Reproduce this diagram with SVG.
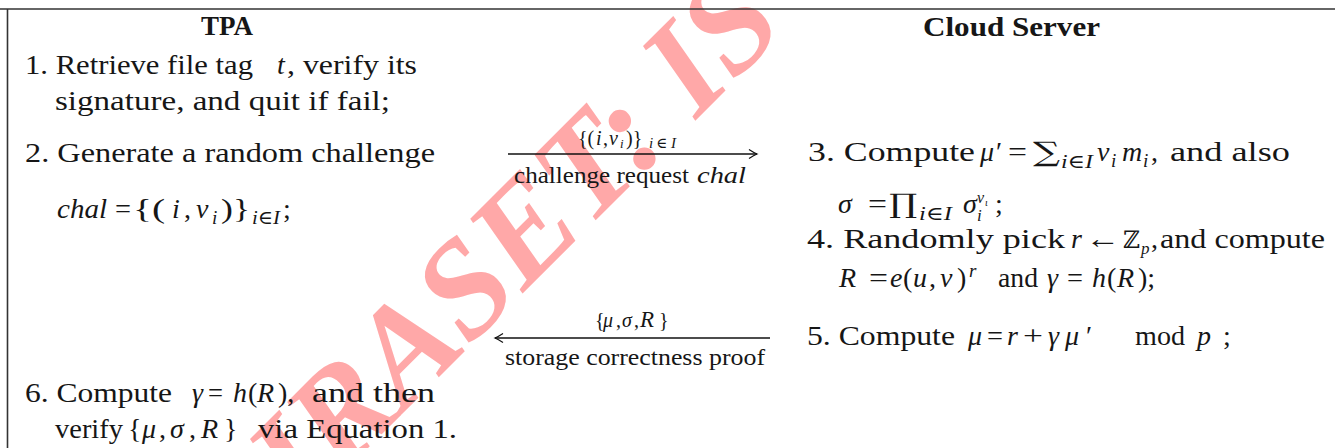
<svg xmlns="http://www.w3.org/2000/svg" width="1335" height="448" viewBox="0 0 1335 448">
<style>
text{font-family:"Liberation Serif","DejaVu Serif",serif;font-size:28px;fill:#161616}
.mi{font-style:italic}
.b{font-weight:bold;font-size:27px}
.s{font-size:19px}
.lab{font-size:23px}
.ml{font-size:20px}
.ms{font-size:15px;font-style:italic}
.big{font-family:"DejaVu Serif","Liberation Serif",serif;font-size:27px}
.wm{font-family:"Liberation Serif","DejaVu Serif",serif;font-size:137px;font-weight:bold;font-style:italic;fill:#ffa8a8}
.frame{stroke:#333;stroke-width:1.6;fill:none}
.conn{stroke:#111;stroke-width:1.3;fill:none}
</style>
<defs>
<marker id="ah" viewBox="-10 -6 12 12" markerWidth="12" markerHeight="12" refX="0" refY="0" orient="auto" markerUnits="userSpaceOnUse">
<path d="M-8,-4.5 Q-3,-1.2 0,0 Q-3,1.2 -8,4.5" stroke="#111" stroke-width="1.2" fill="none"/>
</marker>
</defs>
<rect width="1335" height="448" fill="#fff"/>
<g id="watermark">
<text class="wm" transform="translate(254,562) rotate(-45)">IJRASET: IS</text>
</g>
<g id="frame">
<line class="frame" x1="0" y1="9" x2="1335" y2="9"/>
<line class="frame" x1="7.5" y1="9" x2="7.5" y2="448"/>
</g>
<g id="tpa">
<text class="b" x="227" y="35" text-anchor="middle">TPA</text>
<text x="25" y="74" textLength="228" lengthAdjust="spacingAndGlyphs">1. Retrieve file tag</text>
<text class="mi" x="277" y="74">t</text>
<text x="287" y="74" textLength="130" lengthAdjust="spacingAndGlyphs">, verify its</text>
<text x="55" y="110" textLength="335" lengthAdjust="spacingAndGlyphs">signature, and quit if fail;</text>
<text x="25" y="162" textLength="410" lengthAdjust="spacingAndGlyphs">2. Generate a random challenge</text>
<text class="mi" x="57" y="218" textLength="50" lengthAdjust="spacingAndGlyphs">chal</text>
<text x="115" y="218" textLength="16" lengthAdjust="spacingAndGlyphs">=</text>
<text x="133" y="218" textLength="32" lengthAdjust="spacingAndGlyphs">{(</text>
<text class="mi" x="172" y="218">i</text>
<text x="184" y="218">,</text>
<text class="mi" x="196" y="218">ν</text>
<text class="s mi" x="212" y="224">i</text>
<text x="221" y="218" textLength="29" lengthAdjust="spacingAndGlyphs">)}</text>
<text class="s mi" x="252" y="224" textLength="28" lengthAdjust="spacingAndGlyphs">i∈I</text>
<text x="283" y="218">;</text>
<text x="25" y="402" textLength="147" lengthAdjust="spacingAndGlyphs">6. Compute</text>
<text class="mi" x="192" y="402">γ</text>
<text x="208" y="402" textLength="15" lengthAdjust="spacingAndGlyphs">=</text>
<text class="mi" x="233" y="402">h</text>
<text x="248" y="402">(</text>
<text class="mi" x="257" y="402">R</text>
<text x="278" y="402">),</text>
<text x="312" y="402" textLength="123" lengthAdjust="spacingAndGlyphs">and then</text>
<text x="55" y="438" textLength="68" lengthAdjust="spacingAndGlyphs">verify</text>
<text x="128" y="438">{</text>
<text class="mi" x="142" y="438">μ</text>
<text x="159" y="438">,</text>
<text class="mi" x="170" y="438">σ</text>
<text x="189" y="438">,</text>
<text class="mi" x="201" y="438">R</text>
<text x="224" y="438">}</text>
<text x="258" y="438" textLength="199" lengthAdjust="spacingAndGlyphs">via Equation 1.</text>
</g>
<g id="server">
<text class="b" x="923" y="36" textLength="177" lengthAdjust="spacingAndGlyphs">Cloud Server</text>
<text x="808" y="161" textLength="167" lengthAdjust="spacingAndGlyphs">3. Compute</text>
<text class="mi" x="980" y="161">μ</text>
<text x="996" y="161">′</text>
<text x="1008" y="161" textLength="19" lengthAdjust="spacingAndGlyphs">=</text>
<text class="big" x="1033" y="161" textLength="27" lengthAdjust="spacingAndGlyphs">∑</text>
<text class="s mi" x="1061" y="168" textLength="32" lengthAdjust="spacingAndGlyphs">i∈I</text>
<text class="mi" x="1097" y="161">ν</text>
<text class="s mi" x="1111" y="167">i</text>
<text class="mi" x="1122" y="161">m</text>
<text class="s mi" x="1143" y="167">i</text>
<text x="1151" y="161">,</text>
<text x="1170" y="161" textLength="120" lengthAdjust="spacingAndGlyphs">and also</text>
<text class="mi" x="838" y="213">σ</text>
<text x="868" y="213" textLength="19" lengthAdjust="spacingAndGlyphs">=</text>
<text class="big" x="889" y="213" textLength="28" lengthAdjust="spacingAndGlyphs">∏</text>
<text class="s mi" x="919" y="220" textLength="33" lengthAdjust="spacingAndGlyphs">i∈I</text>
<text class="mi" x="963" y="213">σ</text>
<text class="mi" x="977" y="203" style="font-size:16px">ν</text>
<text class="mi" x="985" y="206" style="font-size:10px">ι</text>
<text class="mi" x="977" y="221" style="font-size:17px">i</text>
<text x="995" y="213">;</text>
<text x="807" y="248" textLength="258" lengthAdjust="spacingAndGlyphs">4. Randomly pick</text>
<text class="mi" x="1071" y="248">r</text>
<text x="1085" y="248" textLength="35" lengthAdjust="spacingAndGlyphs">←</text>
<text class="big" x="1123" y="248" style="font-size:24px" textLength="17" lengthAdjust="spacingAndGlyphs">ℤ</text>
<text class="mi" x="1141" y="254" style="font-size:17px">p</text>
<text x="1151" y="248">,</text>
<text x="1160" y="248" textLength="165" lengthAdjust="spacingAndGlyphs">and compute</text>
<text class="mi" x="839" y="287">R</text>
<text x="869" y="287" textLength="19" lengthAdjust="spacingAndGlyphs">=</text>
<text class="mi" x="890" y="287">e</text>
<text x="903" y="287">(</text>
<text class="mi" x="913" y="287">u</text>
<text x="929" y="287">,</text>
<text class="mi" x="940" y="287">v</text>
<text x="957" y="287">)</text>
<text class="s mi" x="969" y="277">r</text>
<text x="998" y="287" textLength="40" lengthAdjust="spacingAndGlyphs">and</text>
<text class="mi" x="1047" y="287">γ</text>
<text x="1067" y="287" textLength="16" lengthAdjust="spacingAndGlyphs">=</text>
<text class="mi" x="1092" y="287">h</text>
<text x="1107" y="287">(</text>
<text class="mi" x="1117" y="287">R</text>
<text x="1138" y="287">);</text>
<text x="807" y="345" textLength="148" lengthAdjust="spacingAndGlyphs">5. Compute</text>
<text class="mi" x="968" y="345">μ</text>
<text x="987" y="345" textLength="16" lengthAdjust="spacingAndGlyphs">=</text>
<text class="mi" x="1007" y="345">r</text>
<text x="1023" y="345" textLength="20" lengthAdjust="spacingAndGlyphs">+</text>
<text class="mi" x="1048" y="345">γ</text>
<text class="mi" x="1065" y="345">μ</text>
<text x="1086" y="345">′</text>
<text x="1135" y="345" textLength="50" lengthAdjust="spacingAndGlyphs">mod</text>
<text class="mi" x="1197" y="345">p</text>
<text x="1223" y="345">;</text>
</g>
<g id="connectors">
<line class="conn" x1="508" y1="154" x2="757" y2="154" marker-end="url(#ah)"/>
<text class="ml" x="578" y="145">{(</text>
<text class="ml mi" x="596" y="145">i</text>
<text class="ml" x="603" y="145">,</text>
<text class="ml mi" x="609" y="145">ν</text>
<text class="mi" x="620" y="148" style="font-size:13px">i</text>
<text class="ml" x="626" y="145">)}</text>
<text class="ms" x="649" y="148">i</text>
<text class="ms" x="656" y="148">∈</text>
<text class="ms" x="671" y="148">I</text>
<text class="lab" x="514" y="183" textLength="175" lengthAdjust="spacingAndGlyphs">challenge request</text>
<text class="lab mi" x="697" y="183" textLength="49" lengthAdjust="spacingAndGlyphs">chal</text>
<line class="conn" x1="770" y1="338" x2="495" y2="338" marker-end="url(#ah)"/>
<text class="ml" x="595" y="327">{</text>
<text class="ml mi" x="603" y="327">μ</text>
<text class="ml" x="616" y="327">,</text>
<text class="ml mi" x="622" y="327">σ</text>
<text class="ml" x="634" y="327">,</text>
<text class="mi" x="640" y="327" style="font-size:23px">R</text>
<text class="ml" x="659" y="327">}</text>
<text class="lab" x="505" y="365" textLength="260" lengthAdjust="spacingAndGlyphs">storage correctness proof</text>
</g>
</svg>
